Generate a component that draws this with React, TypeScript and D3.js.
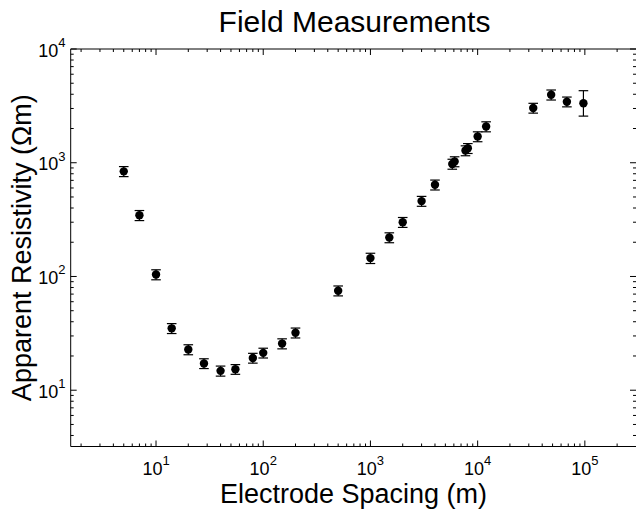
import React from "react";
import * as d3 from "d3";

const spacing = [5, 7, 10, 14, 20, 28, 40, 55, 80, 100, 150, 200, 500, 1000, 1500, 2000, 3000, 4000, 5800, 6100, 7700, 8100, 10000, 12000, 33000, 48500, 68000, 97000];
const resistivity = [840, 345, 104, 35, 22.8, 17.2, 14.8, 15.3, 19.2, 21.3, 25.7, 32, 75, 145, 220, 300, 460, 640, 975, 1025, 1280, 1340, 1700, 2080, 3030, 3960, 3440, 3330];
const errLow = [85, 35, 10.5, 3.5, 2.3, 1.7, 1.5, 1.5, 1.9, 2.1, 2.6, 3.2, 7.5, 15, 22, 30, 46, 64, 98, 103, 128, 134, 170, 210, 300, 400, 340, 760];
const errHigh = [85, 35, 10.5, 3.5, 2.3, 1.7, 1.5, 1.5, 1.9, 2.1, 2.6, 3.2, 7.5, 15, 22, 30, 46, 64, 98, 103, 128, 134, 170, 210, 300, 400, 340, 970];

const xDomain = [1.6, 3e5];
const yDomain = [3.2, 1e4];
const xMajor = [1, 2, 3, 4, 5];
const yMajor = [1, 2, 3, 4];
const titleText = "Field Measurements";
const xLabelText = "Electrode Spacing (m)";
const yLabelText = "Apparent Resistivity (\u03A9m)";

const W = 636;
const H = 510;
const left = 70.7;
const right = 636;
const top = 49;
const bottom = 446.5;
const font = "'Liberation Sans', Arial, Helvetica, sans-serif";

function minorTicks(domain: number[]) {
  const out: number[] = [];
  const lo = Math.floor(Math.log10(domain[0]));
  const hi = Math.ceil(Math.log10(domain[1]));
  for (let e = lo; e < hi; e++) {
    for (let m = 2; m <= 9; m++) {
      const v = m * Math.pow(10, e);
      if (v > domain[0] && v < domain[1]) out.push(v);
    }
  }
  return out;
}

export default function App() {
  const x = d3.scaleLog().domain(xDomain).range([left, right]);
  const y = d3.scaleLog().domain(yDomain).range([bottom, top]);
  const xMinor = minorTicks(xDomain);
  const yMinor = minorTicks(yDomain);
  const maj = 6;
  const mino = 3;

  return (
    <svg width={W} height={H} style={{ position: "absolute", left: 0, top: 0, background: "#fff" }} fontFamily={font}>
      <rect x={0} y={0} width={W} height={H} fill="#fff" />
      {/* axes box */}
      <g stroke="#000" strokeWidth={1} fill="none">
        <line x1={left} y1={top} x2={right} y2={top} />
        <line x1={left} y1={bottom} x2={right} y2={bottom} />
        <line x1={left} y1={top} x2={left} y2={bottom} />
        <line x1={right + 0.5} y1={top} x2={right + 0.5} y2={bottom} />
        {xMajor.map((e) => {
          const px = x(Math.pow(10, e));
          return (
            <g key={"xm" + e}>
              <line x1={px} y1={bottom} x2={px} y2={bottom - maj} />
              <line x1={px} y1={top} x2={px} y2={top + maj} />
            </g>
          );
        })}
        {xMinor.map((v, i) => {
          const px = x(v);
          return (
            <g key={"xn" + i}>
              <line x1={px} y1={bottom} x2={px} y2={bottom - mino} />
              <line x1={px} y1={top} x2={px} y2={top + mino} />
            </g>
          );
        })}
        {yMajor.map((e) => {
          const py = y(Math.pow(10, e));
          return (
            <g key={"ym" + e}>
              <line x1={left} y1={py} x2={left + maj} y2={py} />
              <line x1={right} y1={py} x2={right - maj} y2={py} />
            </g>
          );
        })}
        {yMinor.map((v, i) => {
          const py = y(v);
          return (
            <g key={"yn" + i}>
              <line x1={left} y1={py} x2={left + mino} y2={py} />
              <line x1={right} y1={py} x2={right - mino} y2={py} />
            </g>
          );
        })}
      </g>
      {/* tick labels */}
      {xMajor.map((e) => (
        <text key={"xl" + e} x={x(Math.pow(10, e))} y={475} textAnchor="middle" fontSize={18} fill="#000">
          <tspan>10</tspan>
          <tspan dy={-10.5} fontSize={13}>{e}</tspan>
        </text>
      ))}
      {yMajor.map((e) => (
        <text key={"yl" + e} x={65.5} y={y(Math.pow(10, e)) + 7.5} textAnchor="end" fontSize={18} fill="#000">
          <tspan>10</tspan>
          <tspan dy={-9.5} fontSize={13}>{e}</tspan>
        </text>
      ))}
      {/* error bars and points */}
      <g stroke="#000" strokeWidth={1.2}>
        {spacing.map((s, i) => {
          const px = x(s);
          const yl = y(resistivity[i] - errLow[i]);
          const yh = y(resistivity[i] + errHigh[i]);
          return (
            <g key={"e" + i}>
              <line x1={px} y1={yl} x2={px} y2={yh} />
              <line x1={px - 4.8} y1={yl} x2={px + 4.8} y2={yl} />
              <line x1={px - 4.8} y1={yh} x2={px + 4.8} y2={yh} />
            </g>
          );
        })}
      </g>
      <g fill="#000">
        {spacing.map((s, i) => (
          <circle key={"p" + i} cx={x(s)} cy={y(resistivity[i])} r={4.2} />
        ))}
      </g>
      {/* titles */}
      <text x={354.5} y={32} textAnchor="middle" fontSize={30} fill="#000">{titleText}</text>
      <text x={353.5} y={503} textAnchor="middle" fontSize={27} fill="#000">{xLabelText}</text>
      <text transform={`translate(31, ${(top + bottom) / 2}) rotate(-90)`} textAnchor="middle" fontSize={27} fill="#000">{yLabelText}</text>
    </svg>
  );
}
